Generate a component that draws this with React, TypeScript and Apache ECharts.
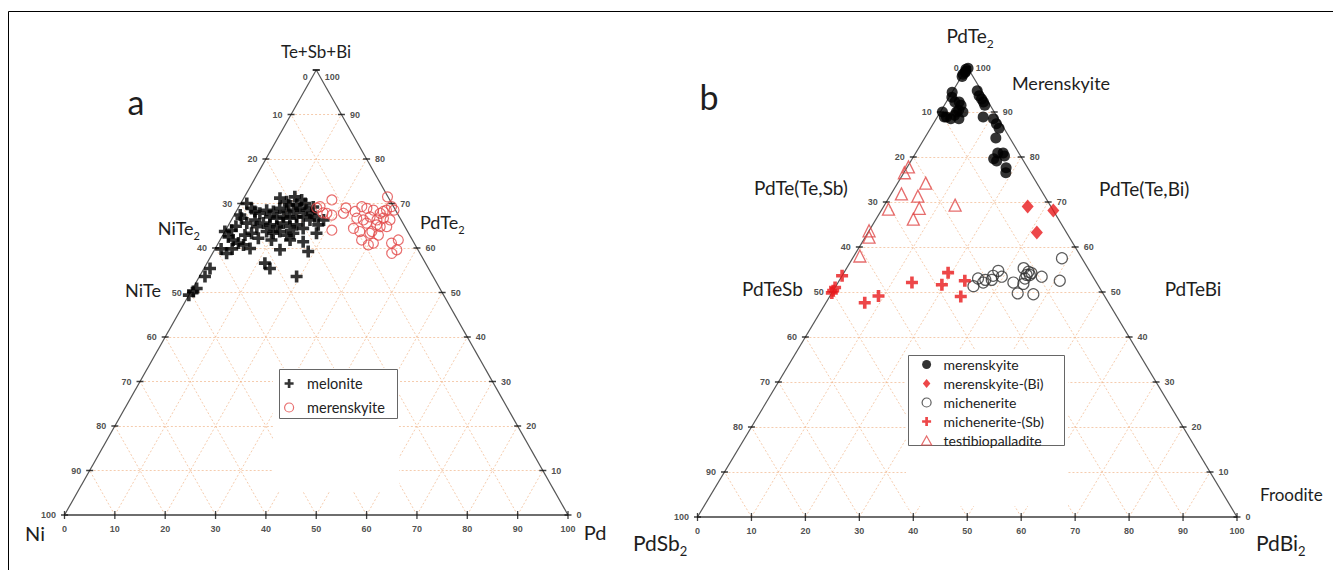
import { useEffect, useRef } from "react";
import * as echarts from "echarts";

// ---------- axes ----------
const TICKS = [0, 10, 20, 30, 40, 50, 60, 70, 80, 90, 100];
const GRID_STEPS = [10, 20, 30, 40, 50, 60, 70, 80, 90];

// ---------- Panel a: composition [Pd, Te+Sb+Bi] (%), Ni = remainder ----------
const meloniteA = [
  [1.2, 70.0], [2.7, 68.9], [3.7, 68.2], [1.8, 66.7], [0, 63.7], [1.2, 64.0], [1.3, 62.5], [2.6, 61.8],
  [4.0, 61.1], [5.2, 60.7], [6.9, 59.9], [2.8, 58.8], [13.0, 59.6], [13.9, 61.8], [16.7, 61.4], [18.8, 59.2],
  [18.4, 63.3], [18.3, 66.3], [11.5, 56.6], [13.1, 55.4], [19.3, 53.6], [1.2, 55.4], [1.1, 53.6], [0.8, 50.9],
  [0.5, 50.2], [0, 49.4], [7.2, 71.2], [8.9, 70.4], [10.0, 71.5], [11.7, 70.8], [12.8, 70.0], [11.3, 69.7],
  [4.9, 67.8], [5.9, 68.5], [7.4, 68.2], [8.3, 68.9], [10.0, 68.2], [11.2, 68.5], [12.3, 68.9], [13.8, 68.5],
  [15.2, 67.8], [7.3, 67.0], [8.8, 66.7], [10.0, 67.0], [11.4, 66.7], [12.6, 67.0], [13.9, 67.0], [15.6, 66.3],
  [16.2, 67.0], [6.7, 65.6], [8.2, 65.2], [9.8, 64.8], [10.6, 65.6], [12.4, 64.8], [13.5, 65.2], [15.2, 64.4],
  [8.3, 63.7], [9.8, 63.3], [10.9, 63.7], [12.7, 62.9], [13.8, 63.3], [5.8, 64.8], [5.5, 63.3], [7.4, 62.2],
  [10.2, 61.8], [3.4, 65.6], [4.7, 66.3], [1.2, 67.4], [1.6, 64.9], [4.4, 62.9], [9.7, 69.7], [14.8, 69.2],
  [17.8, 65.2], [3.4, 59.8], [1.2, 59.8],
];
const merenskyiteA = [
  [17.7, 70.8], [16.1, 69.3], [18.2, 67.8], [19.4, 67.4], [21.5, 67.8], [21.1, 64.0], [23.6, 68.2], [24.4, 69.3],
  [25.6, 68.9], [27.1, 68.5], [28.8, 67.8], [29.7, 68.5], [28.4, 71.5], [31.2, 68.5], [30.3, 69.3], [24.7, 66.7],
  [26.2, 66.3], [27.2, 67.0], [28.9, 66.3], [30.0, 66.7], [31.5, 66.3], [25.2, 64.4], [26.8, 63.7], [29.2, 63.7],
  [30.9, 62.9], [28.1, 61.8], [30.0, 60.7], [30.8, 61.1], [29.0, 63.3], [30.3, 64.8], [31.6, 64.8], [34.4, 61.1],
  [35.4, 61.8], [36.2, 59.6], [35.6, 58.8], [27.2, 65.6], [29.4, 65.2], [29.2, 68.2], [15.6, 69.0], [17.4, 67.9],
  [21.4, 69.0],
];

// ---------- Panel b: composition [PdBi2, PdTe2] (%), PdSb2 = remainder ----------
const merenskyiteB = [
  [0, 99.5], [0.3, 99.7], [0.2, 99.0], [0, 98.4], [0.1, 97.9], [0.2, 98.8],
  [0, 94.4], [0.5, 93.3], [1.6, 92.2], [2.4, 92.2], [3.1, 91.5], [3.2, 90.4], [4.2, 90.0], [3.0, 90.0],
  [0.4, 90.0], [1.3, 88.9], [1.7, 88.9], [2.7, 88.5], [4.2, 88.5], [3.0, 89.3],
  [4.5, 94.7], [5.4, 93.6], [6.2, 92.9], [6.9, 92.2], [7.5, 91.5], [8.5, 88.9], [10.6, 88.5], [11.7, 87.4],
  [12.7, 86.4], [13.2, 84.2], [15.2, 80.9], [16.2, 80.9], [16.8, 80.2], [15.1, 79.6], [15.9, 79.1], [18.4, 77.6],
  [18.9, 76.5],
];
const merenskyiteBiB = [[26.7, 69.0], [31.9, 68.1], [31.3, 63.2]];
const micheneriteB = [
  [38.8, 57.5], [32.8, 55.3], [34.1, 54.5], [34.1, 53.8], [34.7, 53.8], [34.8, 54.2], [37.1, 53.4], [34.2, 53.0],
  [40.9, 52.5], [32.5, 52.1], [34.5, 51.8], [34.5, 49.7], [37.5, 49.5], [28.4, 54.7], [28.0, 53.6], [29.7, 53.4],
  [28.2, 52.7], [27.0, 52.7], [25.5, 53.0], [26.9, 52.1], [25.5, 51.3],
];
const micheneriteSbB = [
  [0, 53.6], [0, 51.0], [0, 50.3], [0, 49.8], [9.0, 49.1], [7.2, 47.6], [13.7, 52.1], [19.3, 54.3],
  [19.5, 51.6], [23.3, 52.5], [24.3, 49.0],
];
const testibiopalladiteB = [
  [0.2, 77.8], [0.1, 76.5], [5.2, 74.2], [1.9, 71.8], [5.2, 71.3], [13.1, 69.3], [1.2, 68.4], [6.8, 68.6],
  [6.9, 66.2], [0, 63.6], [0.7, 62.2], [1.1, 58.0],
];

// ternary [bottom component, top component] -> cartesian units of the triangle
const toXY = (pts: number[][]) => pts.map(([b, t]) => [b + t / 2, t]);

const PLUS = "path://M4.2,0H7.8V4.2H12V7.8H7.8V12H4.2V7.8H0V4.2H4.2Z";
const DIAMOND = "path://M5,0L10,6L5,12L0,6Z";
const TRIANGLE = "path://M5,0L10,9L0,9Z";
const CIRCLE = "path://M5,0A5,5,0,1,1,5,10A5,5,0,1,1,5,0Z";
const FONT = "Lato, 'Open Sans', sans-serif";
const TICK_FONT = "'Liberation Sans', Arial, sans-serif";
const RED = "#e8191c";
const SOFT_RED = "#e24a4a";

function frameSeries(i: number, apexOffset: number): any[] {
  const grid: any[] = [];
  GRID_STEPS.forEach((k) => {
    grid.push({ coords: [[k / 2, k], [100 - k / 2, k]] });
    grid.push({ coords: [[k, 0], [k + (100 - k) / 2, 100 - k]] });
    grid.push({ coords: [[100 - k, 0], [(100 - k) / 2, 100 - k]] });
  });
  const common = { xAxisIndex: i, yAxisIndex: i, silent: true, clip: false };
  const tickLabel = {
    show: true,
    fontSize: 9,
    fontWeight: "bold",
    fontFamily: TICK_FONT,
    color: "#222",
    formatter: (p: any) => String(p.value[2]),
  };
  return [
    {
      ...common,
      type: "lines",
      coordinateSystem: "cartesian2d",
      data: grid,
      lineStyle: { color: "#f0b083", width: 1, type: [2, 2], opacity: 0.65 },
      z: 1,
    },
    {
      ...common,
      type: "lines",
      coordinateSystem: "cartesian2d",
      data: [{ coords: [[0, 0], [50, 100]] }, { coords: [[50, 100], [100, 0]] }],
      lineStyle: { color: "#555", width: 1.2, opacity: 1 },
      z: 3,
    },
    {
      ...common,
      type: "lines",
      coordinateSystem: "cartesian2d",
      data: [{ coords: [[0, 0], [100, 0]] }],
      lineStyle: { color: "#6e6e6e", width: 2, opacity: 1 },
      z: 3,
    },
    {
      ...common,
      type: "scatter",
      data: TICKS.map((t) =>
        t === 100 ? { value: [t / 2, t, 100 - t], label: { offset: [0, apexOffset] } } : [t / 2, t, 100 - t]
      ),
      symbol: "rect",
      symbolSize: [7, 1.5],
      itemStyle: { color: "#111" },
      label: { ...tickLabel, position: "left", distance: 5 },
      z: 4,
    },
    {
      ...common,
      type: "scatter",
      data: TICKS.map((t) =>
        t === 100 ? { value: [100 - t / 2, t, t], label: { offset: [0, apexOffset] } } : [100 - t / 2, t, t]
      ),
      symbol: "rect",
      symbolSize: [7, 1.5],
      itemStyle: { color: "#111" },
      label: { ...tickLabel, position: "right", distance: 5 },
      z: 4,
    },
    {
      ...common,
      type: "scatter",
      data: TICKS.map((t) => [t, 0, t]),
      symbol: "rect",
      symbolSize: [1.3, 8],
      itemStyle: { color: "#111" },
      label: { ...tickLabel, position: "bottom", distance: 5 },
      z: 4,
    },
  ];
}

function txt(x: number, y: number, main: string, size: number, sub?: string, align = "center"): any {
  const s = Math.round(size * 0.63);
  const text = sub ? `{n|${main}}{s|${sub}}` : `{n|${main}}`;
  return {
    type: "text",
    x,
    y,
    z: 70,
    silent: true,
    style: {
      text,
      align,
      textAlign: align,
      verticalAlign: "middle",
      textVerticalAlign: "middle",
      fill: "#1e1e1e",
      rich: {
        n: { fontSize: size, fontFamily: FONT, fill: "#1e1e1e", lineHeight: size + 4, verticalAlign: "top" },
        s: {
          fontSize: s,
          fontFamily: FONT,
          fill: "#1e1e1e",
          lineHeight: s,
          padding: [s, 0, 0, 0],
          verticalAlign: "top",
        },
      },
    },
  };
}

export default function App() {
  const ref = useRef<HTMLDivElement>(null);

  useEffect(() => {
    if (!ref.current) return;
    const chart = echarts.init(ref.current, undefined, { renderer: "svg" });
    const dataCommon = { type: "scatter", clip: false, z: 5 };
    const option: any = {
      animation: false,
      grid: [
        { left: 64.5, top: 70, width: 503.5, height: 445 },
        { left: 697.5, top: 67, width: 539.5, height: 450 },
      ],
      xAxis: [
        { gridIndex: 0, type: "value", min: 0, max: 100, show: false },
        { gridIndex: 1, type: "value", min: 0, max: 100, show: false },
      ],
      yAxis: [
        { gridIndex: 0, type: "value", min: 0, max: 100, show: false },
        { gridIndex: 1, type: "value", min: 0, max: 100, show: false },
      ],
      legend: [
        {
          orient: "vertical",
          left: 284,
          top: 376,
          padding: 0,
          itemWidth: 26,
          itemHeight: 9,
          itemGap: 9,
          selectedMode: false,
          z: 60,
          textStyle: { fontSize: 14.5, fontFamily: FONT, color: "#222", lineHeight: 15 },
          data: [
            { name: "melonite", icon: PLUS, itemStyle: { color: "#000", borderWidth: 0 } },
            {
              name: "merenskyite",
              icon: CIRCLE,
              itemStyle: { color: "rgba(0,0,0,0)", borderColor: SOFT_RED, borderWidth: 1.2 },
            },
          ],
        },
        {
          orient: "vertical",
          left: 921,
          top: 357,
          padding: 0,
          itemWidth: 24,
          itemHeight: 9,
          itemGap: 4,
          selectedMode: false,
          z: 60,
          textStyle: { fontSize: 14, fontFamily: FONT, color: "#222", lineHeight: 15 },
          data: [
            { name: "merenskyite", icon: CIRCLE, itemStyle: { color: "#000", borderWidth: 0 } },
            { name: "merenskyite-(Bi)", icon: DIAMOND, itemStyle: { color: RED, borderWidth: 0 } },
            {
              name: "michenerite",
              icon: CIRCLE,
              itemStyle: { color: "rgba(0,0,0,0)", borderColor: "#333", borderWidth: 1.2 },
            },
            { name: "michenerite-(Sb)", icon: PLUS, itemStyle: { color: RED, borderWidth: 0 } },
            {
              name: "testibiopalladite",
              icon: TRIANGLE,
              itemStyle: { color: "rgba(0,0,0,0)", borderColor: "#e04848", borderWidth: 1.2 },
            },
          ],
        },
      ],
      series: [
        ...frameSeries(0, 7),
        ...frameSeries(1, 1),
        {
          ...dataCommon,
          name: "melonite",
          xAxisIndex: 0,
          yAxisIndex: 0,
          data: toXY(meloniteA),
          symbol: PLUS,
          symbolSize: 12,
          itemStyle: { color: "#000" },
        },
        {
          ...dataCommon,
          name: "merenskyite",
          xAxisIndex: 0,
          yAxisIndex: 0,
          data: toXY(merenskyiteA),
          symbol: "circle",
          symbolSize: 10,
          itemStyle: { color: "rgba(0,0,0,0)", borderColor: SOFT_RED, borderWidth: 1.2 },
        },
        {
          ...dataCommon,
          name: "merenskyite",
          xAxisIndex: 1,
          yAxisIndex: 1,
          data: toXY(merenskyiteB),
          symbol: "circle",
          symbolSize: 11,
          itemStyle: { color: "#000" },
        },
        {
          ...dataCommon,
          name: "merenskyite-(Bi)",
          xAxisIndex: 1,
          yAxisIndex: 1,
          data: toXY(merenskyiteBiB),
          symbol: "diamond",
          symbolSize: [12, 14],
          itemStyle: { color: RED },
        },
        {
          ...dataCommon,
          name: "michenerite",
          xAxisIndex: 1,
          yAxisIndex: 1,
          data: toXY(micheneriteB),
          symbol: "circle",
          symbolSize: 11,
          itemStyle: { color: "rgba(0,0,0,0)", borderColor: "#333", borderWidth: 1.2 },
        },
        {
          ...dataCommon,
          name: "michenerite-(Sb)",
          xAxisIndex: 1,
          yAxisIndex: 1,
          data: toXY(micheneriteSbB),
          symbol: PLUS,
          symbolSize: 12,
          itemStyle: { color: RED },
        },
        {
          ...dataCommon,
          name: "testibiopalladite",
          xAxisIndex: 1,
          yAxisIndex: 1,
          data: toXY(testibiopalladiteB),
          symbol: "triangle",
          symbolSize: 12,
          itemStyle: { color: "rgba(0,0,0,0)", borderColor: "#e04848", borderWidth: 1.3 },
        },
      ],
      graphic: {
        elements: [
          { type: "line", z: 80, silent: true, shape: { x1: 8.5, y1: 11.5, x2: 1333, y2: 11.5 }, style: { stroke: "#000", lineWidth: 1 } },
          { type: "line", z: 80, silent: true, shape: { x1: 8.5, y1: 11.5, x2: 8.5, y2: 570 }, style: { stroke: "#000", lineWidth: 1 } },
          { type: "rect", z: 50, silent: true, shape: { x: 273, y: 368, width: 126, height: 124 }, style: { fill: "#fff" } },
          { type: "rect", z: 50, silent: true, shape: { x: 906, y: 350, width: 162, height: 156 }, style: { fill: "#fff" } },
          { type: "rect", z: 51, silent: true, shape: { x: 279.5, y: 369.5, width: 118, height: 49 }, style: { fill: "#fff", stroke: "#666", lineWidth: 1 } },
          { type: "rect", z: 51, silent: true, shape: { x: 908.5, y: 355.5, width: 156, height: 90 }, style: { fill: "#fff", stroke: "#666", lineWidth: 1 } },
          txt(136, 103, "a", 34),
          txt(709, 98, "b", 34),
          txt(316, 53, "Te+Sb+Bi", 17),
          txt(200, 230, "NiTe", 18, "2", "right"),
          txt(143, 292, "NiTe", 18),
          txt(420, 224, "PdTe", 18, "2", "left"),
          txt(35, 535, "Ni", 20),
          txt(595, 534, "Pd", 20),
          txt(970, 37, "PdTe", 19, "2"),
          txt(1061, 85, "Merenskyite", 18),
          txt(754, 189, "PdTe(Te,Sb)", 19, undefined, "left"),
          txt(1099, 190, "PdTe(Te,Bi)", 19, undefined, "left"),
          txt(742, 290, "PdTeSb", 19, undefined, "left"),
          txt(1193, 290, "PdTeBi", 19),
          txt(1260, 496, "Froodite", 17, undefined, "left"),
          txt(633, 544, "PdSb", 21, "2", "left"),
          txt(1256, 544, "PdBi", 21, "2", "left"),
        ],
      },
    };
    chart.setOption(option);
    return () => chart.dispose();
  }, []);

  return (
    <div
      ref={ref}
      style={{ position: "fixed", left: 0, top: 0, width: 1333, height: 570, background: "#fff" }}
    />
  );
}
